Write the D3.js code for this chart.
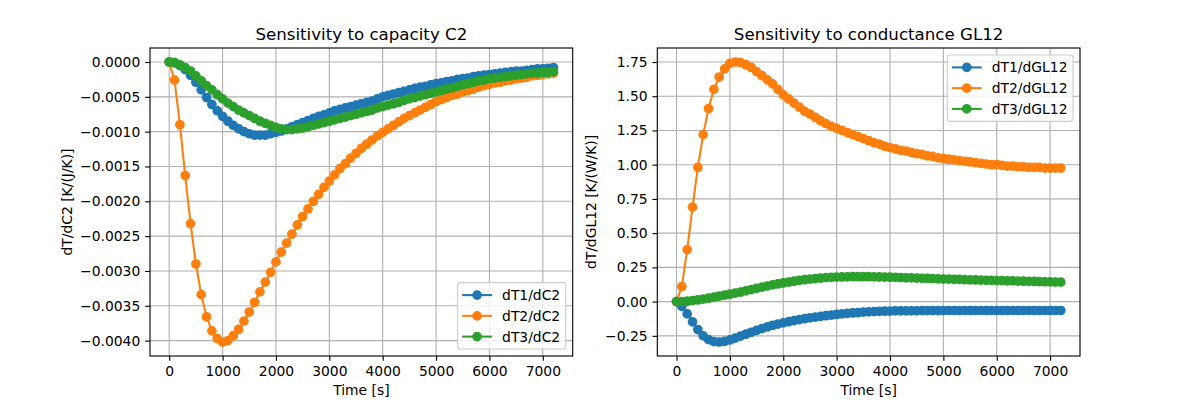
<!DOCTYPE html>
<html>
<head>
<meta charset="utf-8">
<script src="https://cdn.jsdelivr.net/npm/d3@7"></script>
<style>
  body { margin: 0; background: #fff; }
  svg text { font-family: "DejaVu Sans", sans-serif; fill: #000; }
</style>
</head>
<body>
<div class="chart"></div>
<script>
// time axis [s]
var times = [0, 100, 200, 300, 400, 500, 600, 700, 800, 900,
  1000, 1100, 1200, 1300, 1400, 1500, 1600, 1700, 1800, 1900,
  2000, 2100, 2200, 2300, 2400, 2500, 2600, 2700, 2800, 2900,
  3000, 3100, 3200, 3300, 3400, 3500, 3600, 3700, 3800, 3900,
  4000, 4100, 4200, 4300, 4400, 4500, 4600, 4700, 4800, 4900,
  5000, 5100, 5200, 5300, 5400, 5500, 5600, 5700, 5800, 5900,
  6000, 6100, 6200, 6300, 6400, 6500, 6600, 6700, 6800, 6900,
  7000, 7100, 7200];

// sensitivities to capacity C2
var dT1dC2 = [0, -0.00001, -0.00005, -0.00011, -0.00019, -0.00029, -0.0004, -0.00051, -0.00061, -0.0007,
  -0.00078, -0.00085, -0.00091, -0.00096, -0.001, -0.00103, -0.00105, -0.00105, -0.00105, -0.00103,
  -0.00101, -0.00099, -0.00096, -0.00093, -0.0009, -0.00087, -0.00084, -0.00081, -0.00078, -0.00076,
  -0.00073, -0.0007, -0.00068, -0.00066, -0.00064, -0.00062, -0.0006, -0.00058, -0.00056, -0.00053,
  -0.0005, -0.00048, -0.00046, -0.00044, -0.00042, -0.0004, -0.00038, -0.00036, -0.00035, -0.00033,
  -0.00031, -0.0003, -0.00028, -0.00027, -0.00025, -0.00024, -0.00023, -0.00021, -0.0002, -0.00019,
  -0.00018, -0.00017, -0.00016, -0.00015, -0.00014, -0.00013, -0.00013, -0.00012, -0.00011, -0.0001,
  -0.0001, -0.00009, -0.00008];

var dT2dC2 = [0, -0.00026, -0.0009, -0.00163, -0.00232, -0.0029, -0.00334, -0.00366, -0.00386, -0.00397,
  -0.00402, -0.004, -0.00393, -0.00384, -0.00372, -0.00359, -0.00345, -0.0033, -0.00316, -0.00302,
  -0.00287, -0.00273, -0.0026, -0.00247, -0.00234, -0.00222, -0.00211, -0.002, -0.0019, -0.0018,
  -0.00171, -0.00162, -0.00153, -0.00146, -0.00138, -0.00131, -0.00124, -0.00118, -0.00112, -0.00106,
  -0.00101, -0.00096, -0.00091, -0.00086, -0.00081, -0.00077, -0.00073, -0.00069, -0.00065, -0.00061,
  -0.00057, -0.00054, -0.00051, -0.00048, -0.00046, -0.00043, -0.00041, -0.00039, -0.00036, -0.00034,
  -0.00032, -0.0003, -0.00029, -0.00027, -0.00026, -0.00024, -0.00023, -0.00022, -0.0002, -0.00019,
  -0.00018, -0.00017, -0.00016];

var dT3dC2 = [0, -0.00001, -0.00004, -0.00008, -0.00013, -0.0002, -0.00027, -0.00034, -0.0004, -0.00047,
  -0.00053, -0.00059, -0.00064, -0.00069, -0.00073, -0.00077, -0.00081, -0.00085, -0.00088, -0.00091,
  -0.00094, -0.00096, -0.00097, -0.00097, -0.00096, -0.00095, -0.00093, -0.00091, -0.00089, -0.00087,
  -0.00085, -0.00083, -0.00081, -0.00079, -0.00077, -0.00075, -0.00073, -0.00071, -0.00069, -0.00066,
  -0.00064, -0.00062, -0.0006, -0.00058, -0.00055, -0.00053, -0.00051, -0.00049, -0.00047, -0.00045,
  -0.00043, -0.00041, -0.00039, -0.00037, -0.00035, -0.00033, -0.00031, -0.00029, -0.00027, -0.00026,
  -0.00024, -0.00023, -0.00022, -0.00021, -0.0002, -0.00019, -0.00018, -0.00017, -0.00016, -0.00016,
  -0.00015, -0.00015, -0.00014];

// sensitivities to conductance GL12
var dT1dGL12 = [0, -0.034, -0.09, -0.148, -0.204, -0.25, -0.278, -0.292, -0.295, -0.29,
  -0.28, -0.266, -0.252, -0.238, -0.224, -0.21, -0.197, -0.185, -0.174, -0.164,
  -0.155, -0.147, -0.139, -0.132, -0.125, -0.119, -0.113, -0.108, -0.103, -0.098,
  -0.094, -0.09, -0.086, -0.083, -0.08, -0.077, -0.075, -0.073, -0.071, -0.07,
  -0.069, -0.068, -0.068, -0.067, -0.067, -0.067, -0.066, -0.066, -0.066, -0.066,
  -0.065, -0.065, -0.065, -0.065, -0.065, -0.065, -0.065, -0.065, -0.065, -0.065,
  -0.065, -0.065, -0.065, -0.065, -0.065, -0.065, -0.065, -0.065, -0.065, -0.065,
  -0.065, -0.065, -0.065];

var dT2dGL12 = [0, 0.11, 0.38, 0.69, 0.98, 1.22, 1.41, 1.55, 1.64, 1.70,
  1.74, 1.75, 1.745, 1.73, 1.71, 1.68, 1.65, 1.62, 1.59, 1.55,
  1.51, 1.48, 1.45, 1.42, 1.39, 1.37, 1.345, 1.32, 1.30, 1.28,
  1.265, 1.25, 1.235, 1.22, 1.205, 1.19, 1.175, 1.16, 1.15, 1.135,
  1.125, 1.115, 1.105, 1.10, 1.09, 1.08, 1.075, 1.065, 1.06, 1.05,
  1.045, 1.04, 1.035, 1.03, 1.025, 1.02, 1.015, 1.01, 1.005, 1.0,
  1.0, 0.995, 0.99, 0.99, 0.985, 0.985, 0.98, 0.98, 0.98, 0.975,
  0.975, 0.975, 0.975];

var dT3dGL12 = [0, 0.0, 0.003, 0.007, 0.012, 0.018, 0.025, 0.032, 0.04, 0.047,
  0.054, 0.062, 0.07, 0.079, 0.088, 0.097, 0.106, 0.114, 0.122, 0.129,
  0.136, 0.143, 0.149, 0.155, 0.16, 0.164, 0.168, 0.172, 0.175, 0.177,
  0.179, 0.18, 0.181, 0.182, 0.182, 0.182, 0.182, 0.181, 0.18, 0.179,
  0.178, 0.177, 0.176, 0.174, 0.173, 0.172, 0.17, 0.169, 0.168, 0.166,
  0.165, 0.164, 0.163, 0.162, 0.16, 0.159, 0.158, 0.157, 0.156, 0.155,
  0.154, 0.153, 0.152, 0.151, 0.15, 0.149, 0.148, 0.147, 0.146, 0.145,
  0.144, 0.143, 0.142];

var xTicks = [0, 1000, 2000, 3000, 4000, 5000, 6000, 7000];
var capYTicks = [-0.004, -0.0035, -0.003, -0.0025, -0.002, -0.0015, -0.001, -0.0005, 0];
var condYTicks = [-0.25, 0, 0.25, 0.5, 0.75, 1.0, 1.25, 1.5, 1.75];

var capLabels = ["dT1/dC2", "dT2/dC2", "dT3/dC2"];
var condLabels = ["dT1/dGL12", "dT2/dGL12", "dT3/dGL12"];
var colors = ["#1f77b4", "#ff7f0e", "#2ca02c"];

// sizes in px (matplotlib pt * 100/72)
var fs = 13.89;
var tickLen = 4.86;
var thin = 1.11;

var svg = d3.select(".chart")
  .append("svg")
  .attr("width", 1200)
  .attr("height", 400);

function drawPanel(p) {
  var g = svg.append("g").attr("transform", `translate(${p.left}, ${p.top})`);

  var xScale = d3.scaleLinear()
    .domain([-360, 7560])
    .range([0, p.width]);

  var allVals = d3.merge(p.series);
  var ext = d3.extent(allVals);
  var pad = (ext[1] - ext[0]) * 0.05;
  var yScale = d3.scaleLinear()
    .domain([ext[0] - pad, ext[1] + pad])
    .range([p.height, 0]);

  // grid
  g.append("g").selectAll("line.vx")
    .data(xTicks).enter().append("line")
    .attr("x1", d => xScale(d)).attr("x2", d => xScale(d))
    .attr("y1", 0).attr("y2", p.height)
    .attr("stroke", "#b0b0b0").attr("stroke-width", thin);
  g.append("g").selectAll("line.hy")
    .data(p.yTicks).enter().append("line")
    .attr("x1", 0).attr("x2", p.width)
    .attr("y1", d => yScale(d)).attr("y2", d => yScale(d))
    .attr("stroke", "#b0b0b0").attr("stroke-width", thin);

  // axes
  var xAxis = g.append("g")
    .attr("transform", `translate(0, ${p.height})`)
    .call(d3.axisBottom(xScale).tickValues(xTicks).tickFormat(d3.format("d"))
      .tickSize(tickLen).tickPadding(tickLen));
  var yAxis = g.append("g")
    .call(d3.axisLeft(yScale).tickValues(p.yTicks).tickFormat(d3.format(p.yFormat))
      .tickSize(tickLen).tickPadding(tickLen));
  [xAxis, yAxis].forEach(function(a) {
    a.attr("font-family", null).attr("font-size", fs);
    a.select(".domain").remove();
    a.selectAll(".tick line").attr("stroke-width", thin);
  });

  // series: line then markers, in order
  var line = d3.line()
    .x((d, i) => xScale(times[i]))
    .y(d => yScale(d));

  p.series.forEach(function(vals, k) {
    var sg = g.append("g");
    sg.append("path")
      .datum(vals)
      .attr("d", line)
      .attr("fill", "none")
      .attr("stroke", colors[k])
      .attr("stroke-width", 2.08);
    sg.selectAll("circle")
      .data(vals).enter().append("circle")
      .attr("cx", (d, i) => xScale(times[i]))
      .attr("cy", d => yScale(d))
      .attr("r", 4.17)
      .attr("fill", colors[k])
      .attr("stroke", colors[k])
      .attr("stroke-width", 1.39);
  });

  // spines
  g.append("rect")
    .attr("width", p.width).attr("height", p.height)
    .attr("fill", "none").attr("stroke", "#000").attr("stroke-width", thin);

  // titles and labels
  g.append("text")
    .attr("x", p.width / 2).attr("y", -8.3)
    .attr("text-anchor", "middle")
    .attr("font-size", 16.67)
    .text(p.title);
  g.append("text")
    .attr("x", p.width / 2).attr("y", p.height + 39)
    .attr("text-anchor", "middle")
    .attr("font-size", fs)
    .text("Time [s]");
  g.append("text")
    .attr("transform", `translate(${p.yLabelX}, ${p.height / 2}) rotate(-90)`)
    .attr("text-anchor", "middle")
    .attr("font-size", fs)
    .text(p.yLabel);

  // legend
  var bpad = 0.4 * fs, hlen = 2 * fs, htpad = 0.8 * fs, lspace = 0.5 * fs, axpad = 0.5 * fs;
  var rowH = 13.8;
  var leg = g.append("g");
  var frame = leg.append("rect");
  var texts = [];
  p.labels.forEach(function(lbl, k) {
    var t = leg.append("text").attr("font-size", fs).text(lbl);
    texts.push(t);
  });
  var maxW = d3.max(texts, t => t.node().getComputedTextLength());
  var boxW = bpad + hlen + htpad + maxW + bpad;
  var boxH = 2 * bpad + 3 * rowH + 2 * lspace;
  var bx = p.width - axpad - boxW;
  var by = p.legendTop ? axpad : p.height - axpad - boxH;
  frame.attr("x", bx).attr("y", by).attr("width", boxW).attr("height", boxH)
    .attr("rx", 2.8).attr("ry", 2.8)
    .attr("fill", "#fff").attr("fill-opacity", 0.8)
    .attr("stroke", "#cccccc").attr("stroke-width", thin);
  p.labels.forEach(function(lbl, k) {
    var cy = by + bpad + rowH / 2 + k * (rowH + lspace);
    leg.append("line")
      .attr("x1", bx + bpad).attr("x2", bx + bpad + hlen)
      .attr("y1", cy).attr("y2", cy)
      .attr("stroke", colors[k]).attr("stroke-width", 2.08)
      .attr("stroke-linecap", "square");
    leg.append("circle")
      .attr("cx", bx + bpad + hlen / 2).attr("cy", cy).attr("r", 4.17)
      .attr("fill", colors[k]).attr("stroke", colors[k]).attr("stroke-width", 1.39);
    texts[k].attr("x", bx + bpad + hlen + htpad).attr("y", cy).attr("dy", "0.36em");
  });
}

var axW = 422.7, axH = 308;

drawPanel({
  left: 150, top: 48, width: axW, height: axH,
  series: [dT1dC2, dT2dC2, dT3dC2],
  labels: capLabels,
  yTicks: capYTicks, yFormat: ".4f",
  title: "Sensitivity to capacity C2",
  yLabel: "dT/dC2 [K/(J/K)]",
  yLabelX: -78.5,
  legendTop: false
});

drawPanel({
  left: 657.3, top: 48, width: axW, height: axH,
  series: [dT1dGL12, dT2dGL12, dT3dGL12],
  labels: condLabels,
  yTicks: condYTicks, yFormat: ".2f",
  title: "Sensitivity to conductance GL12",
  yLabel: "dT/dGL12 [K/(W/K)]",
  yLabelX: -61.5,
  legendTop: true
});
</script>
</body>
</html>
